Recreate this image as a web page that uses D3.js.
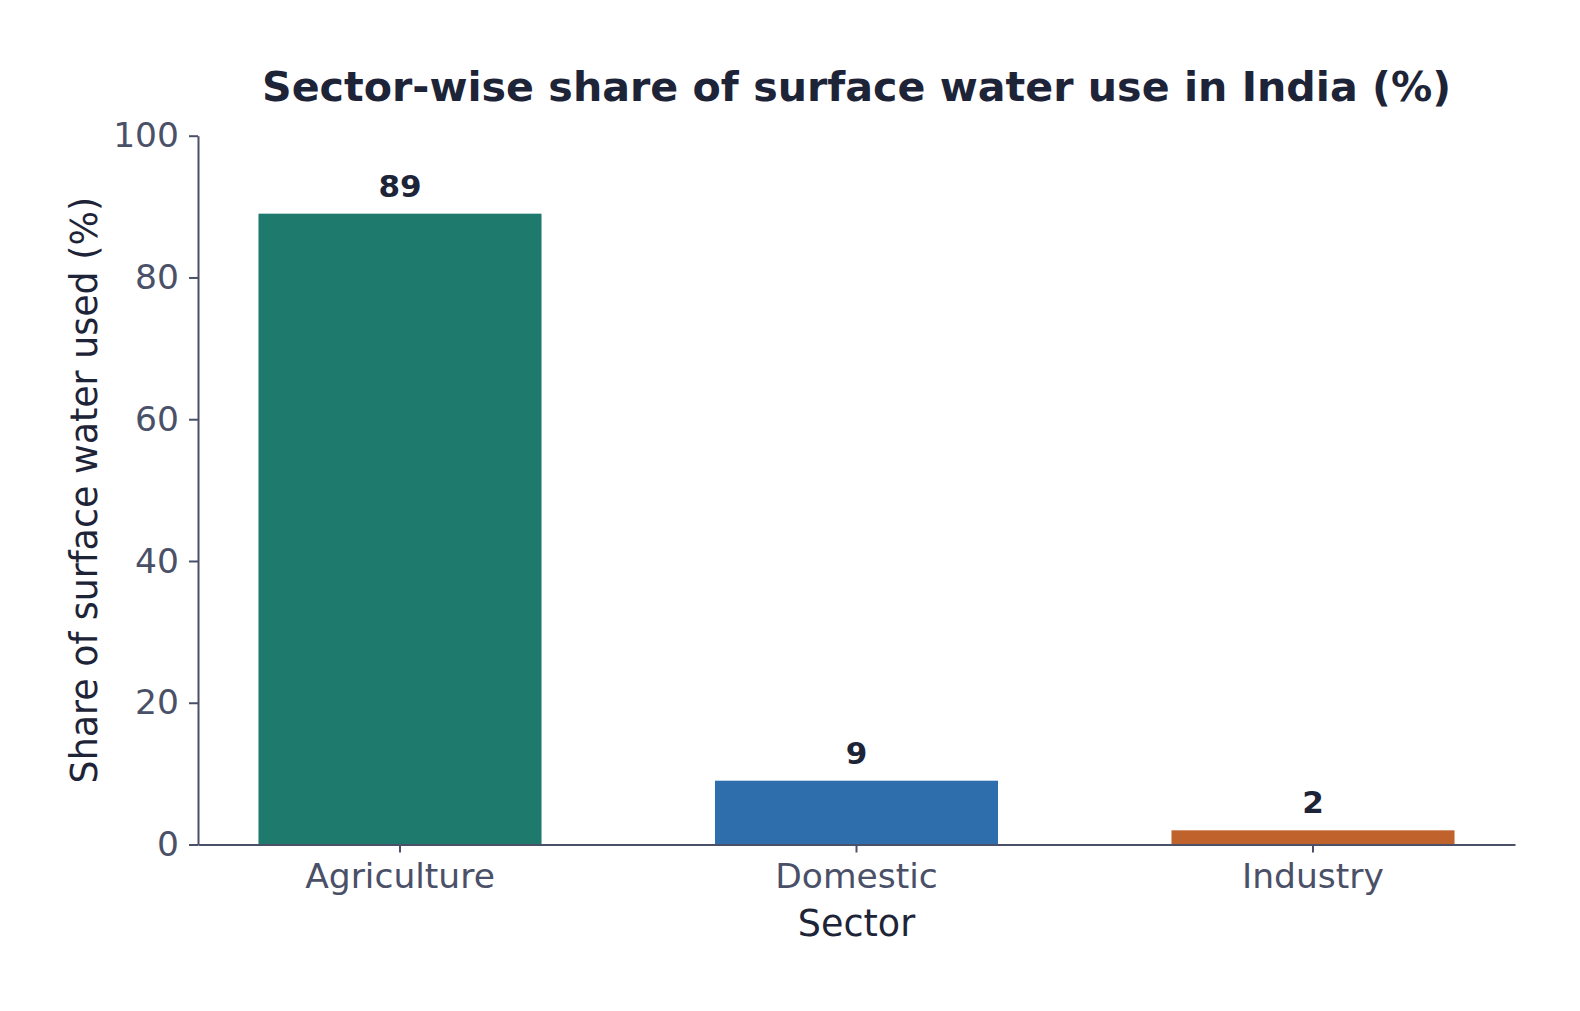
<!DOCTYPE html>
<html>
<head>
<meta charset="utf-8">
<script src="https://cdn.jsdelivr.net/npm/d3@7"></script>
<style>
  body { margin: 0; background: #fff; }
  svg { font-family: "DejaVu Sans", sans-serif; }
</style>
</head>
<body>
<svg id="chart" width="1580" height="1011"></svg>
<script>
const sectors = ["Agriculture", "Domestic", "Industry"];
const shares = [89, 9, 2];
const barColors = ["#1f7a6e", "#2f6ead", "#c0622b"];
const yTicks = [0, 20, 40, 60, 80, 100];

const svg = d3.select("#chart");

// plot area
const plotLeft = 198, plotRight = 1515, plotTop = 135.7, plotBottom = 844.5;

const x = d3
  .scaleBand()
  .domain(sectors)
  .range([plotLeft, plotRight])
  .paddingInner(0.38)
  .paddingOuter(0.1325);

const y = d3.scaleLinear().domain([0, 100]).range([plotBottom, plotTop]);

const axisColor = "#4a5068";
const tickText = "#4a5068";
const darkText = "#1e2438";

// bars
svg
  .append("g")
  .selectAll("rect")
  .data(shares)
  .enter()
  .append("rect")
  .attr("x", (d, i) => x(sectors[i]))
  .attr("width", x.bandwidth())
  .attr("y", (d) => y(d))
  .attr("height", (d) => y(0) - y(d))
  .attr("fill", (d, i) => barColors[i]);

// value labels
svg
  .append("g")
  .selectAll("text")
  .data(shares)
  .enter()
  .append("text")
  .attr("x", (d, i) => x(sectors[i]) + x.bandwidth() / 2)
  .attr("y", (d) => y(d) - 17)
  .attr("text-anchor", "middle")
  .attr("font-size", 31)
  .attr("font-weight", "bold")
  .attr("fill", darkText)
  .text((d) => d);

// y axis
const yAxis = svg
  .append("g")
  .attr("transform", `translate(${plotLeft},0)`)
  .call(d3.axisLeft(y).tickValues(yTicks).tickSize(9).tickPadding(10).tickSizeOuter(0));

// x axis
const xAxis = svg
  .append("g")
  .attr("transform", `translate(0,${plotBottom})`)
  .call(d3.axisBottom(x).tickSize(8).tickPadding(11).tickSizeOuter(0));

[yAxis, xAxis].forEach((ax) => {
  ax.select(".domain").attr("stroke", axisColor).attr("stroke-width", 2);
  ax.selectAll(".tick line").attr("stroke", axisColor).attr("stroke-width", 2);
  ax.selectAll(".tick text")
    .attr("fill", tickText)
    .attr("font-size", 34.5)
    .attr("font-family", "DejaVu Sans");
});

// title
svg
  .append("text")
  .attr("x", (plotLeft + plotRight) / 2)
  .attr("y", 101)
  .attr("text-anchor", "middle")
  .attr("font-size", 41.2)
  .attr("font-weight", "bold")
  .attr("fill", darkText)
  .text("Sector-wise share of surface water use in India (%)");

// axis titles
svg
  .append("text")
  .attr("x", (plotLeft + plotRight) / 2)
  .attr("y", 936)
  .attr("text-anchor", "middle")
  .attr("font-size", 36.5)
  .attr("fill", darkText)
  .text("Sector");

svg
  .append("text")
  .attr("transform", `translate(97,${(plotTop + plotBottom) / 2}) rotate(-90)`)
  .attr("text-anchor", "middle")
  .attr("font-size", 36.4)
  .attr("fill", darkText)
  .text("Share of surface water used (%)");
</script>
</body>
</html>
